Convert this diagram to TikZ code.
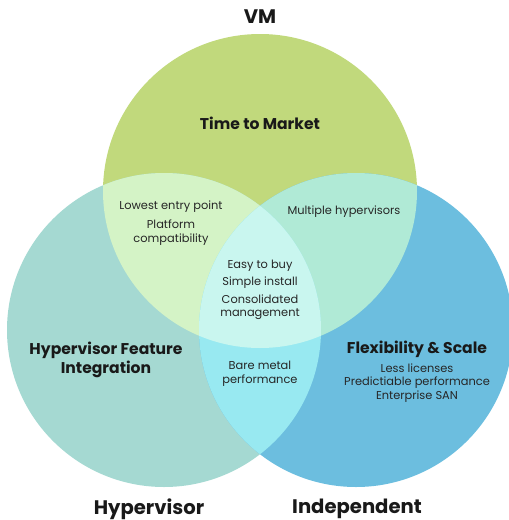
\documentclass[tikz,border=0pt]{standalone}
\usepackage{fontspec}
\setmainfont{Poppins}
\usepackage{tikz}
\usetikzlibrary{positioning}

\definecolor{vmgreen}{HTML}{C1D97C}
\definecolor{hypteal}{HTML}{A5D9D2}
\definecolor{indblue}{HTML}{6CBEDF}
\definecolor{vmhyp}{HTML}{D4F3C6}
\definecolor{vmind}{HTML}{B0EAD6}
\definecolor{hypind}{HTML}{98E9F1}
\definecolor{allthree}{HTML}{C9F6EF}

\tikzset{
  setname/.style={font=\bfseries\fontsize{19.6}{22}\selectfont, text=black!90},
  headline/.style={font=\bfseries\fontsize{15.6}{19}\selectfont, text=black!90, align=center},
  itemtext/.style={font=\fontsize{11.4}{13.5}\selectfont, text=black!85, align=center},
}

\begin{document}
\begin{tikzpicture}[x=1pt,y=-1pt]

\useasboundingbox (0,0) rectangle (509,520);
\def\r{157}

\coordinate (vm) at (260,191);
\coordinate (hyp) at (164,330);
\coordinate (ind) at (356,330);

% the three sets
\fill[vmgreen] (vm) circle (\r);
\fill[hypteal] (hyp) circle (\r);
\fill[indblue] (ind) circle (\r);

% overlaps
\begin{scope}
	\clip (vm) circle (\r);
	\fill[vmhyp] (hyp) circle (\r);
	\fill[vmind] (ind) circle (\r);
\end{scope}
\begin{scope}
	\clip (hyp) circle (\r);
	\fill[hypind] (ind) circle (\r);
	\clip (ind) circle (\r);
	\fill[allthree] (vm) circle (\r);
\end{scope}

% set names
\node[setname] (vmname) at (260,17) {VM};
\node[setname] (hypname) at (149,509) {Hypervisor};
\node[setname] (indname) at (357,509) {Independent};

% regions
\node[headline] (market) at (260,123) {Time to Market};
\node[itemtext] (entry) at (171,207) {Lowest entry point};
\node[itemtext] (platform) at (171,232.5) {Platform\\compatibility};
\node[itemtext] (multi) at (344,212) {Multiple hypervisors};
\node[itemtext] (easy) at (260,290) {Easy to buy\\[3.5pt]Simple install\\[4pt]Consolidated\\management};
\node[headline] (feature) at (106,359.5) {Hypervisor Feature\\Integration};
\node[itemtext] (bare) at (260,374) {Bare metal\\performance};
\node[headline] (flex) at (417,349) {Flexibility \& Scale};
\node[itemtext, below=-1pt of flex] (perf) {Less licenses\\Predictiable performance\\Enterprise SAN};

\end{tikzpicture}
\end{document}
